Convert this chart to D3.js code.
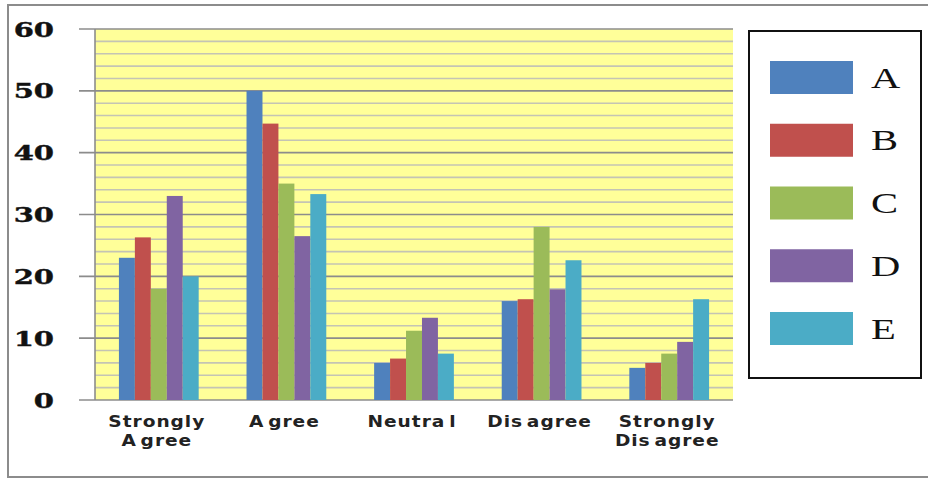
<!DOCTYPE html>
<html>
<head>
<meta charset="utf-8">
<script src="https://cdn.jsdelivr.net/npm/d3@7"></script>
<style>
  html, body { margin: 0; padding: 0; background: #fff; }
  svg { display: block; }
</style>
</head>
<body>
<div id="chart"></div>
<script>
// categories (multi-line labels as they appear), series, values
var categories = ['Strongly A gree', 'A gree', 'Neutra l', 'Dis agree', 'Strongly Dis agree']
var categoryLines = [['Strongly', 'A gree'], ['A gree'], ['Neutra l'], ['Dis agree'], ['Strongly', 'Dis agree']]
var seriesNames = ['A', 'B', 'C', 'D', 'E']
var seriesColors = ['#4f81bd', '#c0504d', '#9bbb59', '#8064a2', '#4bacc6']

var valuesA = [23, 50, 6, 16, 5.2]
var valuesB = [26.3, 44.7, 6.7, 16.3, 6]
var valuesC = [18, 35, 11.2, 28, 7.5]
var valuesD = [33, 26.5, 13.3, 17.9, 9.4]
var valuesE = [20, 33.3, 7.5, 22.6, 16.3]
var allValues = [valuesA, valuesB, valuesC, valuesD, valuesE]

var yTicks = [0, 10, 20, 30, 40, 50, 60]
var yMinorTicks = d3.range(0, 61, 2)

var W = 928, H = 479
var plot = {left: 95, top: 29, right: 733, bottom: 400}

var svg = d3.select('#chart').append('svg')
  .attr('width', W)
  .attr('height', H)

// outer frame (only top, left, bottom visible)
svg.append('path')
  .attr('d', 'M928,5 H8 V477 H928')
  .attr('fill', 'none')
  .attr('stroke', '#8c8c8c')
  .attr('stroke-width', 2)

var x = d3.scaleBand()
  .domain(categories)
  .range([plot.left, plot.right])
  .paddingInner(0.375)
  .paddingOuter(0.1875)

var xInner = d3.scaleBand()
  .domain(seriesNames)
  .range([0, x.bandwidth()])

var y = d3.scaleLinear()
  .domain([0, 60])
  .range([plot.bottom, plot.top])

// plot background
svg.append('rect')
  .attr('x', plot.left)
  .attr('y', plot.top)
  .attr('width', plot.right - plot.left)
  .attr('height', plot.bottom - plot.top)
  .attr('fill', '#ffff99')

// minor gridlines
svg.append('g').selectAll('line')
  .data(yMinorTicks.filter(function(d) { return d % 10 !== 0 }))
  .enter().append('line')
  .attr('x1', plot.left).attr('x2', plot.right)
  .attr('y1', function(d) { return y(d) }).attr('y2', function(d) { return y(d) })
  .attr('stroke', '#c4c4b4')
  .attr('stroke-width', 1.6)

// major gridlines
svg.append('g').selectAll('line')
  .data(yTicks)
  .enter().append('line')
  .attr('x1', plot.left - 16).attr('x2', plot.right)
  .attr('y1', function(d) { return y(d) }).attr('y2', function(d) { return y(d) })
  .attr('stroke', '#8c8c8c')
  .attr('stroke-width', 1.6)

// left axis line
svg.append('line')
  .attr('x1', plot.left).attr('x2', plot.left)
  .attr('y1', plot.top).attr('y2', plot.bottom)
  .attr('stroke', '#8c8c8c')
  .attr('stroke-width', 1.6)

// bars
var groups = svg.append('g').selectAll('g')
  .data(categories)
  .enter().append('g')
  .attr('transform', function(d) { return 'translate(' + x(d) + ',0)' })

groups.selectAll('rect')
  .data(function(d, i) {
    return seriesNames.map(function(s, j) { return {series: s, value: allValues[j][i], color: seriesColors[j]} })
  })
  .enter().append('rect')
  .attr('x', function(d) { return xInner(d.series) })
  .attr('width', xInner.bandwidth())
  .attr('y', function(d) { return y(d.value) })
  .attr('height', function(d) { return y(0) - y(d.value) })
  .attr('fill', function(d) { return d.color })

// y tick labels (wide bold serif)
svg.append('g').selectAll('text')
  .data(yTicks)
  .enter().append('text')
  .attr('transform', function(d) { return 'translate(54,' + (y(d) + 7.5) + ') scale(1.45,1)' })
  .attr('text-anchor', 'end')
  .attr('font-family', 'DejaVu Serif')
  .attr('font-weight', 'bold')
  .attr('font-size', 20)
  .attr('stroke', '#111')
  .attr('stroke-width', 0.4)
  .attr('fill', '#111')
  .text(function(d) { return d })

// x category labels
var xl = svg.append('g').selectAll('g')
  .data(categories)
  .enter().append('g')
  .attr('transform', function(d) { return 'translate(' + (x(d) + x.bandwidth() / 2 - 2) + ',427)' })

xl.selectAll('text')
  .data(function(d, i) { return categoryLines[i] })
  .enter().append('text')
  .attr('transform', function(d, i) { return 'translate(0,' + (i * 19) + ') scale(1.2,1)' })
  .attr('text-anchor', 'middle')
  .attr('font-family', 'DejaVu Sans')
  .attr('font-weight', 'bold')
  .attr('font-size', 15.5)
  .attr('letter-spacing', 0.8)
  .attr('word-spacing', -3)
  .attr('fill', '#222')
  .text(function(d) { return d })

// legend
svg.append('rect')
  .attr('x', 749).attr('y', 31)
  .attr('width', 172).attr('height', 347)
  .attr('fill', '#fff')
  .attr('stroke', '#111')
  .attr('stroke-width', 2)

var ly = d3.scalePoint()
  .domain(seriesNames)
  .range([77.5, 328.5])

var li = svg.append('g').selectAll('g')
  .data(seriesNames)
  .enter().append('g')
  .attr('transform', function(d) { return 'translate(0,' + ly(d) + ')' })

li.append('rect')
  .attr('x', 770).attr('y', -16.5)
  .attr('width', 83).attr('height', 33)
  .attr('fill', function(d, i) { return seriesColors[i] })

li.append('text')
  .attr('transform', 'translate(871,10) scale(1.4,1)')
  .attr('font-family', 'Liberation Serif')
  .attr('font-size', 29)
  .attr('fill', '#111')
  .text(function(d) { return d })
</script>
</body>
</html>
